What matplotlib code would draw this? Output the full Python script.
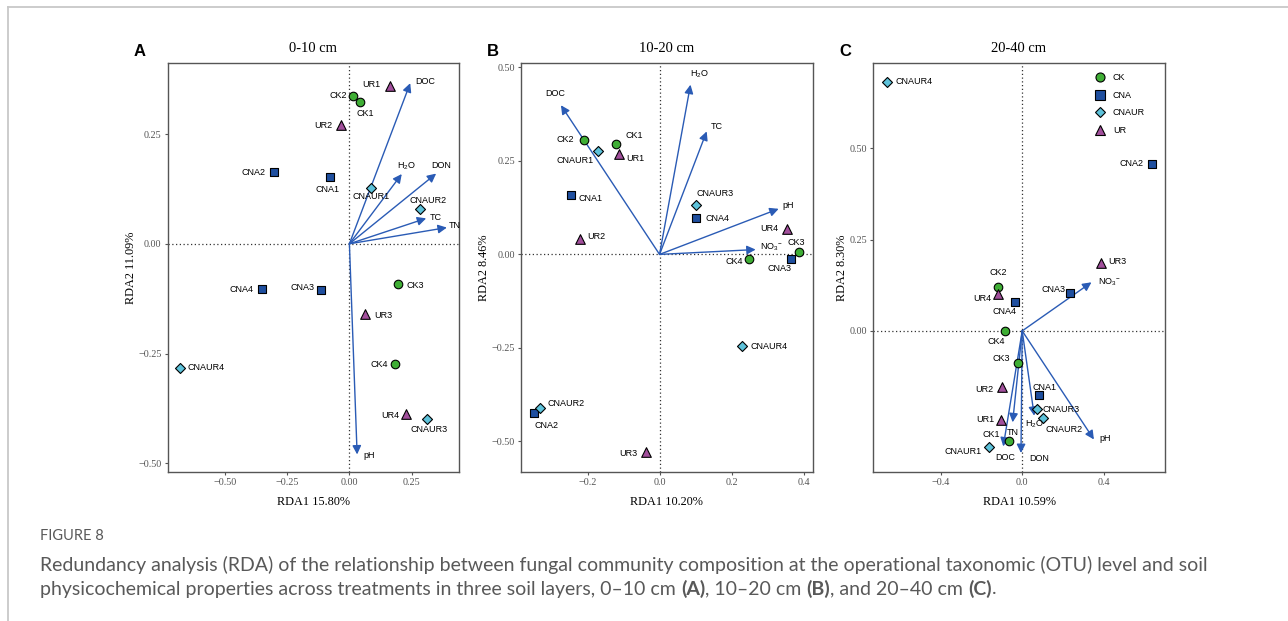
"""
RDA de comunidad fúngica (OTU) vs propiedades del suelo, tres capas.
"""
import matplotlib
matplotlib.use("Agg")
import matplotlib.pyplot as plt
from matplotlib.lines import Line2D

plt.rcParams["mathtext.default"] = "regular"

# ---------------- datos ----------------
titles = ["0-10 cm", "10-20 cm", "20-40 cm"]
letters = ["A", "B", "C"]
xlabels = ["RDA1 15.80%", "RDA1 10.20%", "RDA1 10.59%"]
ylabels = ["RDA2 11.09%", "RDA2 8.46%", "RDA2 8.30%"]

groups = ["CK", "CNA", "CNAUR", "UR"]

# muestras (x, y) por panel
samples_a = {
    "CK1": (0.044, 0.324), "CK2": (0.016, 0.337), "CK3": (0.194, -0.091), "CK4": (0.181, -0.275),
    "CNA1": (-0.078, 0.153), "CNA2": (-0.304, 0.163), "CNA3": (-0.112, -0.106), "CNA4": (-0.351, -0.103),
    "CNAUR1": (0.086, 0.128), "CNAUR2": (0.284, 0.080), "CNAUR3": (0.312, -0.400), "CNAUR4": (-0.680, -0.284),
    "UR1": (0.161, 0.360), "UR2": (-0.035, 0.271), "UR3": (0.062, -0.159), "UR4": (0.226, -0.388),
}
samples_b = {
    "CK1": (-0.122, 0.295), "CK2": (-0.211, 0.306), "CK3": (0.388, 0.007), "CK4": (0.248, -0.011),
    "CNA1": (-0.246, 0.160), "CNA2": (-0.348, -0.424), "CNA3": (0.364, -0.011), "CNA4": (0.102, 0.097),
    "CNAUR1": (-0.170, 0.276), "CNAUR2": (-0.333, -0.411), "CNAUR3": (0.102, 0.132), "CNAUR4": (0.229, -0.245),
    "UR1": (-0.112, 0.268), "UR2": (-0.221, 0.042), "UR3": (-0.039, -0.529), "UR4": (0.353, 0.068),
}
samples_c = {
    "CK1": (-0.067, -0.302), "CK2": (-0.119, 0.120), "CK3": (-0.021, -0.087), "CK4": (-0.083, 0.001),
    "CNA1": (0.083, -0.176), "CNA2": (0.635, 0.457), "CNA3": (0.237, 0.104), "CNA4": (-0.036, 0.078),
    "CNAUR1": (-0.162, -0.318), "CNAUR2": (0.100, -0.238), "CNAUR3": (0.074, -0.213), "CNAUR4": (-0.665, 0.682),
    "UR1": (-0.105, -0.244), "UR2": (-0.100, -0.154), "UR3": (0.385, 0.186), "UR4": (-0.119, 0.101),
}

# vectores ambientales (punta de la flecha)
env_a = {"DOC": (0.244, 0.366), "H$_2$O": (0.210, 0.159), "DON": (0.348, 0.160),
         "TC": (0.308, 0.058), "TN": (0.391, 0.037), "pH": (0.031, -0.480)}
env_b = {"DOC": (-0.274, 0.399), "H$_2$O": (0.086, 0.454), "TC": (0.131, 0.329),
         "pH": (0.331, 0.122), "NO$_3$$^{-}$": (0.267, 0.013)}
env_c = {"NO$_3$$^{-}$": (0.340, 0.133), "pH": (0.352, -0.297), "H$_2$O": (0.059, -0.232),
         "TN": (-0.047, -0.250), "DOC": (-0.093, -0.316), "DON": (-0.006, -0.334)}

xlims = [(-0.729, 0.4405), (-0.385, 0.425), (-0.731, 0.700)]
ylims = [(-0.520, 0.412), (-0.582, 0.512), (-0.386, 0.733)]
xticks = [[-0.50, -0.25, 0.00, 0.25], [-0.2, 0.0, 0.2, 0.4], [-0.4, 0.0, 0.4]]
yticks = [[-0.50, -0.25, 0.00, 0.25], [-0.50, -0.25, 0.00, 0.25, 0.50], [0.00, 0.25, 0.50]]
xfmt = ["{:.2f}", "{:.1f}", "{:.1f}"]

# ---------------- estilo ----------------
style = {
    "CK": dict(marker="o", color="#3fae35", s=38),
    "CNA": dict(marker="s", color="#1f4f9f", s=30),
    "CNAUR": dict(marker="D", color="#5dc2da", s=26),
    "UR": dict(marker="^", color="#a24f9c", s=48),
}
arrow_col = "#2a5bb5"

# desplazamientos de etiquetas (pixeles, ha)
lab_a = {
    "UR1": (-9, 1, "right"), "CK2": (-6, 0, "right"), "CK1": (5, -12, "center"), "UR2": (-8, -1, "right"),
    "CNA2": (-8, 0, "right"), "CNA1": (-2, -13, "center"), "CNAUR1": (0, -9, "center"), "CNAUR2": (8, 8, "center"),
    "CNA4": (-8, 0, "right"), "CNA3": (-7, 3, "right"), "CK3": (9, -2, "left"), "UR3": (9, -2, "left"),
    "CK4": (-7, 0, "right"), "CNAUR4": (8, 1, "left"), "UR4": (-6, -1, "right"), "CNAUR3": (2, -10, "center"),
    "DOC": (5, 2, "left"), "H$_2$O": (5, 8, "center"), "DON": (5, 8, "center"), "TC": (4, 1, "left"),
    "TN": (2, 2, "left"), "pH": (6, -1, "left"),
}
lab_b = {
    "DOC": (-6, 12, "center"), "H$_2$O": (9, 10, "center"), "TC": (4, 5, "left"), "pH": (4, 3, "left"),
    "NO$_3$$^{-}$": (4, 2, "left"), "CK2": (-10, 1, "right"), "CNAUR1": (-5, -9, "right"),
    "CK1": (10, 9, "left"), "UR1": (7, -4, "left"), "CNA1": (7, -4, "left"), "UR2": (7, 2, "left"),
    "CNAUR3": (0, 12, "left"), "CNA4": (9, 0, "left"), "UR4": (-8, 0, "right"), "CK3": (-3, 9, "center"),
    "CNA3": (-11, -10, "center"), "CK4": (-6, -3, "right"), "CNAUR4": (9, 0, "left"),
    "CNAUR2": (8, 5, "left"), "CNA2": (12, -13, "center"), "UR3": (-8, -1, "right"),
}
lab_c = {
    "CNAUR4": (9, 0, "left"), "CNA2": (-8, 0, "right"), "UR3": (8, 1, "left"), "CK2": (0, 15, "center"),
    "UR4": (-7, -5, "right"), "CNA4": (-10, -9, "center"), "CNA3": (-5, 3, "right"),
    "NO$_3$$^{-}$": (7, 0, "left"), "CK4": (-9, -11, "center"), "CK3": (-8, 4, "right"),
    "UR2": (-8, -2, "right"), "CNA1": (5, 8, "center"), "CNAUR3": (5, -1, "left"),
    "H$_2$O": (0, -9, "center"), "CNAUR2": (21, -12, "center"), "pH": (5, 1, "left"),
    "UR1": (-6, 1, "right"), "TN": (0, -10, "center"), "CK1": (-17, 7, "center"),
    "CNAUR1": (-8, -4, "right"), "DOC": (2, -11, "center"), "DON": (8, -6, "left"),
}

panels = [(samples_a, env_a, lab_a), (samples_b, env_b, lab_b), (samples_c, env_c, lab_c)]
lefts = [167.7, 521.0, 873.3]

fig = plt.figure(figsize=(12.88, 6.21), dpi=100)
W, H = 1288, 621

sans = "Liberation Sans"
serif = "Liberation Serif"

for i, (samples, env, labs) in enumerate(panels):
    ax = fig.add_axes([lefts[i] / W, (H - 472) / H, 291.5 / W, 409 / H])
    ax.set_xlim(*xlims[i])
    ax.set_ylim(*ylims[i])
    ax.axhline(0, color="#333333", ls=(0, (1, 2)), lw=0.9, zorder=1)
    ax.axvline(0, color="#333333", ls=(0, (1, 2)), lw=0.9, zorder=1)

    for name, (ex, ey) in env.items():
        ax.annotate("", xy=(ex, ey), xytext=(0, 0),
                    arrowprops=dict(arrowstyle="-|>", color=arrow_col, lw=1.0,
                                    mutation_scale=13, shrinkA=0, shrinkB=0), zorder=2)
        dx, dy, ha = labs[name]
        ax.annotate(name, (ex, ey), xytext=(dx, dy), textcoords="offset pixels",
                    ha=ha, va="center", fontsize=6.5, family=sans, zorder=4)

    for g in groups:
        names = [n for n in samples if n[:-1] == g]
        xs = [samples[n][0] for n in names]
        ys = [samples[n][1] for n in names]
        st = style[g]
        ax.scatter(xs, ys, marker=st["marker"], s=st["s"], c=st["color"],
                   edgecolors="black", linewidths=0.8, zorder=3, label=g)
        for n in names:
            dx, dy, ha = labs[n]
            ax.annotate(n, samples[n], xytext=(dx, dy), textcoords="offset pixels",
                        ha=ha, va="center", fontsize=6.5, family=sans, zorder=4)

    ax.set_xticks(xticks[i])
    ax.set_xticklabels([xfmt[i].format(v).replace("-", "\u2212") for v in xticks[i]])
    ax.set_yticks(yticks[i])
    ax.set_yticklabels(["{:.2f}".format(v).replace("-", "\u2212") for v in yticks[i]])
    ax.tick_params(labelsize=7.3, colors="#555555", length=2.5, width=0.8, pad=2,
                   labelcolor="#555555")
    for lab in ax.get_xticklabels() + ax.get_yticklabels():
        lab.set_family(serif)
    for sp in ax.spines.values():
        sp.set_color("#555555")
        sp.set_linewidth(1.0)

    ax.set_xlabel(xlabels[i], family=serif, fontsize=8.8, labelpad=6)
    ax.set_ylabel(ylabels[i], family=serif, fontsize=8.8, labelpad=1)
    ax.set_title(titles[i], family=serif, fontsize=10.5, pad=8)
    fig.text((lefts[i] - 28) / W, (H - 51) / H, letters[i], ha="center", va="center",
             fontsize=12, fontweight="bold", family=sans)

    if i == 2:
        handles = [Line2D([], [], ls="none", marker=style[g]["marker"], color=style[g]["color"],
                          markeredgecolor="black", markeredgewidth=0.8,
                          markersize=6.5 if g != "CNAUR" else 5.5) for g in groups]
        ax.legend(handles, groups, loc="upper left", bbox_to_anchor=(0.735, 0.995), frameon=False,
                  prop=dict(family=sans, size=6.5), labelspacing=0.95, handletextpad=0.9,
                  handlelength=1.0)

# marco de la figura
fig.add_artist(Line2D([8 / W, 8 / W], [0, 1 - 7 / H], color="#c8c8c8", lw=1.3))
fig.add_artist(Line2D([8 / W, 1], [1 - 7 / H, 1 - 7 / H], color="#c8c8c8", lw=1.3))

# pie de figura
cap_font = "Lato"
fig.text(40 / W, 1 - 536 / H, "FIGURE 8", fontsize=10.5, color="#595959", family=cap_font,
         va="center")


def seq_text(x0, y, parts):
    # coloca trozos de texto seguidos (normal / negrita)
    r = fig.canvas.get_renderer()
    x = x0
    for s, bold in parts:
        t = fig.text(x / W, y, s, fontsize=14, color="#595959", family=cap_font,
                     fontweight="bold" if bold else "normal", va="center")
        x += t.get_window_extent(renderer=r).width


seq_text(40, 1 - 565 / H, [("Redundancy analysis (RDA) of the relationship between fungal community "
                            "composition at the operational taxonomic (OTU) level and soil", False)])
seq_text(40, 1 - 589 / H, [("physicochemical properties across treatments in three soil layers, 0\u201310 cm ", False),
                           ("(A)", True), (", 10\u201320 cm ", False), ("(B)", True),
                           (", and 20\u201340 cm ", False), ("(C)", True), (".", False)])

fig.savefig("out.png", dpi=100)
